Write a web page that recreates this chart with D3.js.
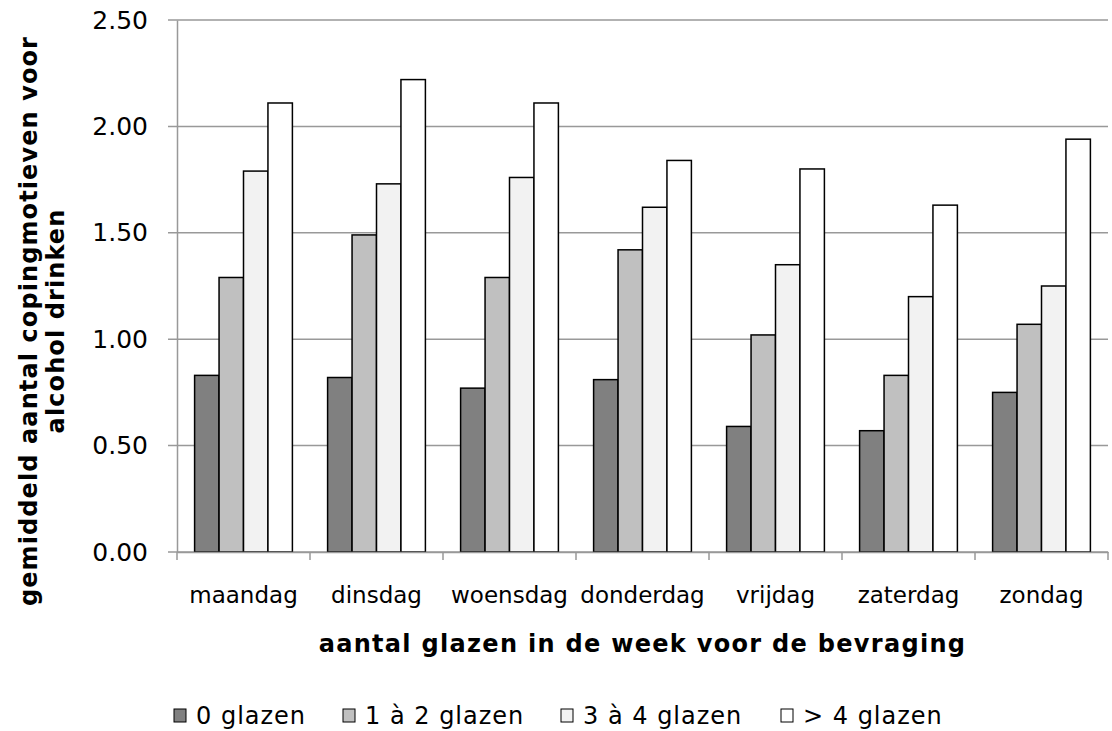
<!DOCTYPE html>
<html>
<head>
<meta charset="utf-8">
<script src="https://cdn.jsdelivr.net/npm/d3@7"></script>
<style>
  body { margin: 0; background: #fff; }
  text { font-family: "DejaVu Sans", Verdana, sans-serif; fill: #000; }
</style>
</head>
<body>
<script>
// Data
var days = ["maandag", "dinsdag", "woensdag", "donderdag", "vrijdag", "zaterdag", "zondag"];
var seriesNames = ["0 glazen", "1 à 2 glazen", "3 à 4 glazen", "> 4 glazen"];
var glazen0 = [0.83, 0.82, 0.77, 0.81, 0.59, 0.57, 0.75];
var glazen1to2 = [1.29, 1.49, 1.29, 1.42, 1.02, 0.83, 1.07];
var glazen3to4 = [1.79, 1.73, 1.76, 1.62, 1.35, 1.20, 1.25];
var glazenOver4 = [2.11, 2.22, 2.11, 1.84, 1.80, 1.63, 1.94];
var yTicks = [0, 0.5, 1, 1.5, 2, 2.5];
var colors = ["#808080", "#c0c0c0", "#f2f2f2", "#ffffff"];

var series = [glazen0, glazen1to2, glazen3to4, glazenOver4];

var W = 1112, H = 731;
var margin = { top: 20, right: 4, bottom: 179, left: 177 },
    width = W - margin.left - margin.right,
    height = H - margin.top - margin.bottom;

var svg = d3.select("body").append("svg")
    .attr("width", W)
    .attr("height", H);

var g = svg.append("g")
    .attr("transform", "translate(" + margin.left + "," + margin.top + ")");

// Scales
var x0 = d3.scaleBand().domain(days).range([0, width]);
var x1 = d3.scaleBand().domain(d3.range(seriesNames.length))
    .range([0, x0.bandwidth()]).paddingInner(0).paddingOuter(0.72);
var y = d3.scaleLinear().domain([0, 2.5]).range([height, 0]);

// Gridlines
g.selectAll(".grid")
    .data(yTicks)
    .enter().append("line")
    .attr("x1", -9)
    .attr("x2", width)
    .attr("y1", function (d) { return y(d); })
    .attr("y2", function (d) { return y(d); })
    .attr("stroke", "#999")
    .attr("stroke-width", 1.5);

// Y axis
var yAxis = d3.axisLeft(y).tickValues(yTicks).tickFormat(d3.format(".2f")).tickSize(0).tickPadding(29);
g.append("g").call(yAxis)
    .call(function (s) { s.select(".domain").attr("stroke", "#999").attr("stroke-width", 1.5); })
    .selectAll("text").style("font-size", "25px").attr("fill", "#000");

// Bars
var groups = g.selectAll(".day")
    .data(days)
    .enter().append("g")
    .attr("transform", function (d) { return "translate(" + x0(d) + ",0)"; });

groups.selectAll("rect")
    .data(function (d, i) { return series.map(function (s, k) { return { k: k, v: s[i] }; }); })
    .enter().append("rect")
    .attr("x", function (d) { return x1(d.k); })
    .attr("width", x1.bandwidth())
    .attr("y", function (d) { return y(d.v); })
    .attr("height", function (d) { return height - y(d.v); })
    .attr("fill", function (d) { return colors[d.k]; })
    .attr("stroke", "#000")
    .attr("stroke-width", 1.5);

// X axis
var xAxis = d3.axisBottom(x0).tickSize(0).tickPadding(35);
var xg = g.append("g").attr("transform", "translate(0," + height + ")").call(xAxis);
xg.select(".domain").attr("stroke", "#999").attr("stroke-width", 1.5);
xg.selectAll("text").style("font-size", "23px").attr("fill", "#000");
// category separators
xg.selectAll(".sep")
    .data(d3.range(days.length + 1))
    .enter().append("line")
    .attr("x1", function (i) { return i * x0.bandwidth(); })
    .attr("x2", function (i) { return i * x0.bandwidth(); })
    .attr("y1", 0).attr("y2", 8)
    .attr("stroke", "#999").attr("stroke-width", 1.5);

// Axis titles
svg.append("text")
    .attr("x", margin.left + width / 2)
    .attr("y", 652)
    .attr("text-anchor", "middle")
    .style("font-size", "24px")
    .style("font-weight", "bold")
    .style("letter-spacing", "1.3px")
    .text("aantal glazen in de week voor de bevraging");

var yt = svg.append("text")
    .attr("transform", "translate(37,321) rotate(-90)")
    .attr("text-anchor", "middle")
    .style("font-size", "24px")
    .style("font-weight", "bold")
    .style("letter-spacing", "1.1px");
yt.append("tspan").attr("x", 0).attr("y", 0).text("gemiddeld aantal copingmotieven voor");
yt.append("tspan").attr("x", 0).attr("y", 27).text("alcohol drinken");

// Legend
var legendX = [174, 343, 561, 781];
var lg = svg.selectAll(".legend")
    .data(seriesNames)
    .enter().append("g")
    .attr("transform", function (d, i) { return "translate(" + legendX[i] + ",724)"; });
lg.append("rect")
    .attr("x", 0).attr("y", -15)
    .attr("width", 12).attr("height", 13)
    .attr("fill", function (d, i) { return colors[i]; })
    .attr("stroke", "#000").attr("stroke-width", 1);
lg.append("text")
    .attr("x", 22).attr("y", 0)
    .style("font-size", "24px")
    .style("letter-spacing", "1px")
    .text(function (d) { return d; });
</script>
</body>
</html>
